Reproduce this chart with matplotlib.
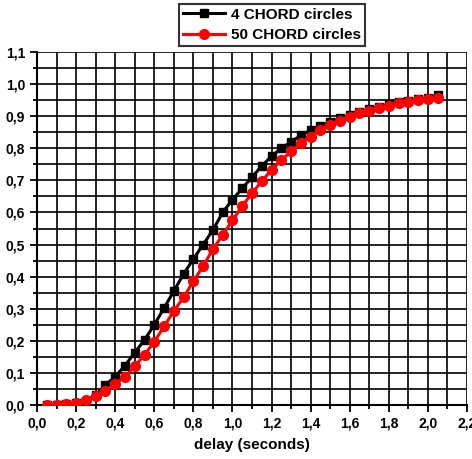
import numpy as np
import matplotlib.pyplot as plt
from matplotlib.ticker import MultipleLocator, FuncFormatter

# ─── data ──────────────────────────────────────────────────────────────────
delay = [0.05, 0.10, 0.15, 0.20, 0.25, 0.30, 0.35, 0.40, 0.45, 0.50,
         0.55, 0.60, 0.65, 0.70, 0.75, 0.80, 0.85, 0.90, 0.95, 1.00,
         1.05, 1.10, 1.15, 1.20, 1.25, 1.30, 1.35, 1.40, 1.45, 1.50,
         1.55, 1.60, 1.65, 1.70, 1.75, 1.80, 1.85, 1.90, 1.95, 2.00, 2.05]

chord4 = [0.000, 0.000, 0.002, 0.005, 0.013, 0.030, 0.063, 0.088, 0.123, 0.163,
          0.203, 0.250, 0.302, 0.355, 0.408, 0.455, 0.500, 0.545, 0.600, 0.640,
          0.675, 0.710, 0.745, 0.775, 0.800, 0.820, 0.840, 0.857, 0.870, 0.882,
          0.893, 0.903, 0.913, 0.922, 0.930, 0.937, 0.943, 0.948, 0.953, 0.957, 0.965]

chord50 = [0.000, 0.001, 0.003, 0.007, 0.017, 0.027, 0.045, 0.065, 0.088, 0.120,
           0.157, 0.196, 0.245, 0.292, 0.336, 0.385, 0.433, 0.485, 0.530, 0.575,
           0.620, 0.660, 0.697, 0.733, 0.763, 0.790, 0.815, 0.836, 0.857, 0.872,
           0.886, 0.898, 0.909, 0.917, 0.924, 0.932, 0.940, 0.943, 0.950, 0.953, 0.956]

labels = ['4 CHORD circles', '50 CHORD circles']

plt.rcParams['font.family'] = ['Liberation Sans', 'DejaVu Sans']
plt.rcParams['font.weight'] = 'bold'

fig = plt.figure(figsize=(4.72, 4.59), dpi=100)
ax = fig.add_axes([37/472, 1 - 405/459, 430/472, 353/459])

ax.plot(delay, chord4, color='black', lw=2.2, marker='s', ms=6, label=labels[0], zorder=4)
ax.plot(delay, chord50, color='red', lw=2.2, marker='o', ms=7, label=labels[1], zorder=5)

ax.set_xlim(0, 2.2)
ax.set_ylim(0, 1.1)
ax.xaxis.set_major_locator(MultipleLocator(0.2))
ax.xaxis.set_minor_locator(MultipleLocator(0.1))
ax.yaxis.set_major_locator(MultipleLocator(0.1))
ax.yaxis.set_minor_locator(MultipleLocator(0.05))
comma = FuncFormatter(lambda v, p: f'{v:.1f}'.replace('.', ','))
ax.xaxis.set_major_formatter(comma)
ax.yaxis.set_major_formatter(comma)

ax.grid(True, which='both', color='black', lw=1.2)
ax.set_axisbelow(True)
ax.tick_params(which='both', direction='out', width=1.3, colors='black', labelsize=10)
ax.tick_params(which='major', length=5)
ax.tick_params(which='minor', length=3)
for side in ['top', 'right']:
    ax.spines[side].set_visible(False)
for side in ['left', 'bottom']:
    ax.spines[side].set_linewidth(1.5)

ax.set_xlabel('delay (seconds)', fontsize=11, fontweight='bold', labelpad=5)

leg = fig.legend(loc='upper center', bbox_to_anchor=(272/472, 1 - 4/459),
                 fontsize=11, frameon=True, fancybox=False, handlelength=2.8,
                 borderpad=0.25, labelspacing=0.4, handletextpad=0.4,
                 borderaxespad=0)
leg.get_frame().set_edgecolor('black')
leg.get_frame().set_linewidth(1.5)

fig.savefig('out.png', dpi=100)
